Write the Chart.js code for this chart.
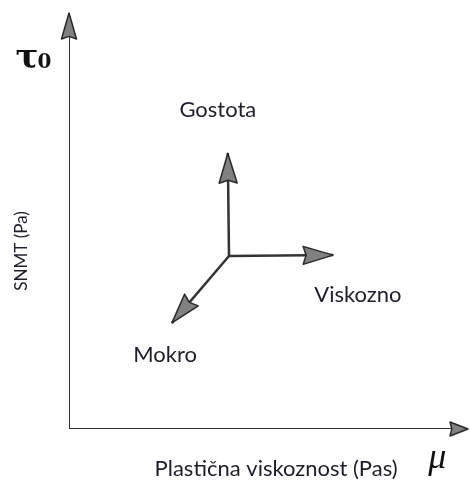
<!DOCTYPE html>
<html>
<head>
<meta charset="utf-8">
<script src="https://cdn.jsdelivr.net/npm/chart.js@4/dist/chart.umd.min.js"></script>
<style>
body { margin: 0; background: #fff; }
</style>
</head>
<body>
<canvas id="myChart" width="470" height="480"></canvas>
<script>
// star of three arrows, in axis units (0..100 on both axes)
var origin = [40.1, 41.6];
var arrowNames = ['Gostota', 'Viskozno', 'Mokro'];
var arrowX = [39.8, 66.2, 25.8];
var arrowY = [66.3, 41.8, 25.5];
var labelX = [37.3, 72.4, 24.1];
var labelY = [76.7, 32.2, 17.8];

var axisMax = 100;
var xTitle = 'Plastična viskoznost (Pas)';
var yTitle = 'SNMT (Pa)';
var xSymbol = 'μ';
var ySymbol = ['τ', '0'];

var lineColor = '#333333';

var datasets = [
    { data: [{ x: 0, y: 0 }, { x: axisMax, y: 0 }], borderWidth: 2, headLength: 18, headWidth: 14 },
    { data: [{ x: 0, y: 0 }, { x: 0, y: axisMax }], borderWidth: 2, headLength: 26, headWidth: 15 }
];
arrowNames.forEach(function (name, i) {
    datasets.push({
        label: name,
        data: [{ x: origin[0], y: origin[1] }, { x: arrowX[i], y: arrowY[i] }],
        borderWidth: 2.5,
        headLength: 30,
        headWidth: 18
    });
});
datasets.forEach(function (ds) {
    ds.showLine = true;
    ds.borderColor = lineColor;
    ds.pointRadius = 0;
    ds.borderCapStyle = 'butt';
});

var arrowHeads = {
    id: 'arrowHeads',
    afterDatasetsDraw: function (chart) {
        var ctx = chart.ctx;
        chart.data.datasets.forEach(function (ds, i) {
            var pts = chart.getDatasetMeta(i).data;
            var a = pts[0], b = pts[1];
            var ang = Math.atan2(b.y - a.y, b.x - a.x);
            var len = ds.headLength, half = ds.headWidth / 2;
            ctx.save();
            ctx.translate(b.x, b.y);
            ctx.rotate(ang);
            ctx.beginPath();
            ctx.moveTo(0, 0);
            ctx.lineTo(-len, -half);
            ctx.lineTo(-len * 0.9, 0);
            ctx.lineTo(-len, half);
            ctx.closePath();
            ctx.fillStyle = '#808080';
            ctx.fill();
            ctx.lineJoin = 'round';
            ctx.strokeStyle = '#2a2a2a';
            ctx.lineWidth = 1.5;
            ctx.stroke();
            ctx.restore();
        });
    }
};

var textLabels = {
    id: 'textLabels',
    afterDraw: function (chart) {
        var ctx = chart.ctx;
        var sx = chart.scales.x, sy = chart.scales.y;
        ctx.save();
        ctx.fillStyle = '#1e1e2a';
        ctx.textAlign = 'center';
        ctx.textBaseline = 'middle';
        ctx.font = '22px Lato';
        arrowNames.forEach(function (name, i) {
            ctx.fillText(name, sx.getPixelForValue(labelX[i]), sy.getPixelForValue(labelY[i]));
        });
        ctx.fillText(xTitle, sx.getPixelForValue(51.9), sy.getPixelForValue(-9.6));
        ctx.save();
        ctx.translate(sx.getPixelForValue(-11.8), sy.getPixelForValue(42.8));
        ctx.rotate(-Math.PI / 2);
        ctx.font = '17px Lato';
        ctx.fillText(yTitle, 0, 0);
        ctx.restore();

        ctx.fillStyle = '#111';
        ctx.font = 'italic 36px "Liberation Serif"';
        ctx.fillText(xSymbol, sx.getPixelForValue(92.3), sy.getPixelForValue(-7.0));
        ctx.textAlign = 'left';
        ctx.textBaseline = 'alphabetic';
        var tx = sx.getPixelForValue(-13.4), ty = sy.getPixelForValue(86.8);
        ctx.font = 'bold 34px "DejaVu Serif"';
        ctx.fillText(ySymbol[0], tx, ty);
        var w = ctx.measureText(ySymbol[0]).width;
        ctx.font = 'bold 20px "DejaVu Serif"';
        ctx.fillText(ySymbol[1], tx + w - 1, ty);
        ctx.restore();
    }
};

var ctx = document.getElementById('myChart');
var myChart = new Chart(ctx, {
    type: 'scatter',
    data: { datasets: datasets },
    options: {
        responsive: false,
        animation: false,
        layout: { padding: { left: 69, right: 2, top: 13, bottom: 51 } },
        scales: {
            x: { type: 'linear', min: 0, max: axisMax, display: false },
            y: { type: 'linear', min: 0, max: axisMax, display: false }
        },
        plugins: {
            legend: { display: false },
            tooltip: { enabled: false }
        }
    },
    plugins: [arrowHeads, textLabels]
});
</script>
</body>
</html>
